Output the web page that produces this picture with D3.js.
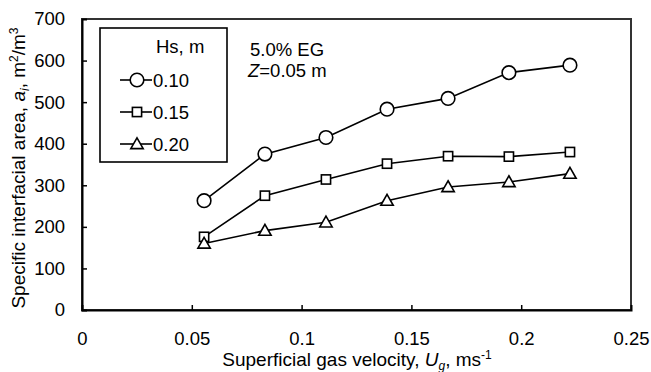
<!DOCTYPE html>
<html>
<head>
<meta charset="utf-8">
<script src="https://cdn.jsdelivr.net/npm/d3@7"></script>
<style>
  body { margin: 0; background: #fff; }
  svg text { font-family: "Liberation Sans", Arial, sans-serif; fill: #000; }
</style>
</head>
<body>
<div id="chart"></div>
<script>
// Data
const ugValues = [0.0556, 0.0833, 0.1111, 0.1389, 0.1667, 0.1944, 0.2222];
const seriesNames = ["0.10", "0.15", "0.20"];
const area010 = [263, 375, 415, 483, 509, 571, 589];
const area015 = [176, 275, 314, 352, 370, 369, 380];
const area020 = [160, 191, 211, 263, 296, 308, 328];
const xTicks = [0, 0.05, 0.1, 0.15, 0.2, 0.25];
const yTicks = [0, 100, 200, 300, 400, 500, 600, 700];

const series = [
	{ name: seriesNames[0], values: area010, marker: "circle" },
	{ name: seriesNames[1], values: area015, marker: "square" },
	{ name: seriesNames[2], values: area020, marker: "triangle" }
];

// Dimensions and margins
const W = 651, H = 372;
const margin = { top: 19, right: 20, bottom: 62, left: 82 };
const width = W - margin.left - margin.right;
const height = H - margin.top - margin.bottom;

const svg = d3.select("#chart").append("svg")
	.attr("width", W)
	.attr("height", H);

const g = svg.append("g")
	.attr("transform", "translate(" + margin.left + "," + margin.top + ")");

// Scales
const x = d3.scaleLinear().domain([0, 0.25]).range([0, width]);
const y = d3.scaleLinear().domain([0, 700]).range([height, 0]);

// Frame (top and right)
g.append("rect")
	.attr("x", 0).attr("y", 0)
	.attr("width", width).attr("height", height)
	.attr("fill", "none")
	.attr("stroke", "#333")
	.attr("stroke-width", 2);

// Axes
const xAxis = d3.axisBottom(x).tickValues(xTicks).tickSize(-5).tickPadding(22)
	.tickFormat(d => d === 0 ? "0" : String(+d.toFixed(2)));
const yAxis = d3.axisLeft(y).tickValues(yTicks).tickSize(-5).tickPadding(17)
	.tickFormat(d3.format("d"));

const gx = g.append("g")
	.attr("transform", "translate(0," + height + ")")
	.call(xAxis);
const gy = g.append("g").call(yAxis);

[gx, gy].forEach(a => {
	a.select(".domain").attr("stroke", "#000").attr("stroke-width", 2);
	a.selectAll(".tick line").attr("stroke", "#000").attr("stroke-width", 1.5);
	a.selectAll(".tick text").style("font-size", "18.5px").attr("fill", "#000")
		.style("font-family", "'Liberation Sans', Arial, sans-serif");
});
gx.selectAll(".tick line").filter(d => d === 0 || d === 0.25).remove();
gy.selectAll(".tick line").filter(d => d === 0 || d === 700).remove();

// Markers
function drawMarker(sel, type, size) {
	if (type === "circle") {
		sel.append("circle").attr("r", size * 0.68);
	} else if (type === "square") {
		sel.append("rect")
			.attr("x", -size * 0.46).attr("y", -size * 0.46)
			.attr("width", size * 0.92).attr("height", size * 0.92);
	} else {
		const s = size * 0.62;
		sel.append("path")
			.attr("d", "M0," + (-s) + "L" + (s * 1.0) + "," + (s * 0.75) + "L" + (-s * 1.0) + "," + (s * 0.75) + "Z");
	}
	sel.selectAll("circle, rect, path")
		.attr("fill", "#fff")
		.attr("stroke", "#000")
		.attr("stroke-width", 1.6);
}

const line = d3.line()
	.x((d, i) => x(ugValues[i]))
	.y(d => y(d));

series.forEach(s => {
	g.append("path")
		.datum(s.values)
		.attr("fill", "none")
		.attr("stroke", "#000")
		.attr("stroke-width", 1.6)
		.attr("d", line);
	s.values.forEach((v, i) => {
		const m = g.append("g")
			.attr("transform", "translate(" + x(ugValues[i]) + "," + y(v) + ")");
		drawMarker(m, s.marker, 10);
	});
});

// Legend
const legend = svg.append("g");
legend.append("rect")
	.attr("x", 100).attr("y", 28)
	.attr("width", 127).attr("height", 134)
	.attr("fill", "#fff")
	.attr("stroke", "#000")
	.attr("stroke-width", 1.6);
legend.append("text")
	.attr("x", 156).attr("y", 53)
	.style("font-size", "18.5px")
	.text("Hs, m");
series.forEach((s, i) => {
	const cy = 80 + i * 32;
	legend.append("line")
		.attr("x1", 120).attr("x2", 152)
		.attr("y1", cy).attr("y2", cy)
		.attr("stroke", "#000").attr("stroke-width", 1.6);
	const m = legend.append("g").attr("transform", "translate(137," + cy + ")");
	drawMarker(m, s.marker, 10);
	legend.append("text")
		.attr("x", 153).attr("y", cy + 6.5)
		.style("font-size", "18.5px")
		.text(s.name);
});

// Annotation
svg.append("text")
	.attr("x", 250).attr("y", 56)
	.style("font-size", "18.5px")
	.text("5.0% EG");
const ann = svg.append("text")
	.attr("x", 248).attr("y", 77)
	.style("font-size", "18.5px");
ann.append("tspan").style("font-style", "italic").text("Z");
ann.append("tspan").text("=0.05 m");

// Axis labels
const xl = svg.append("text")
	.attr("x", 357).attr("y", 366)
	.attr("text-anchor", "middle")
	.style("font-size", "19px");
xl.append("tspan").text("Superficial gas velocity, ");
xl.append("tspan").style("font-style", "italic").text("U");
xl.append("tspan").style("font-style", "italic").style("font-size", "12px").attr("dy", 4).text("g");
xl.append("tspan").attr("dy", -4).text(", ms");
xl.append("tspan").style("font-size", "12px").attr("dy", -7).text("-1");

const yl = svg.append("text")
	.attr("transform", "translate(25,168) rotate(-90)")
	.attr("text-anchor", "middle")
	.style("font-size", "19px");
yl.append("tspan").text("Specific interfacial area, ");
yl.append("tspan").style("font-style", "italic").text("a");
yl.append("tspan").style("font-style", "italic").style("font-size", "12px").attr("dy", 4).text("i");
yl.append("tspan").attr("dy", -4).text(", m");
yl.append("tspan").style("font-size", "12px").attr("dy", -7).text("2");
yl.append("tspan").attr("dy", 7).text("/m");
yl.append("tspan").style("font-size", "12px").attr("dy", -7).text("3");
</script>
</body>
</html>
